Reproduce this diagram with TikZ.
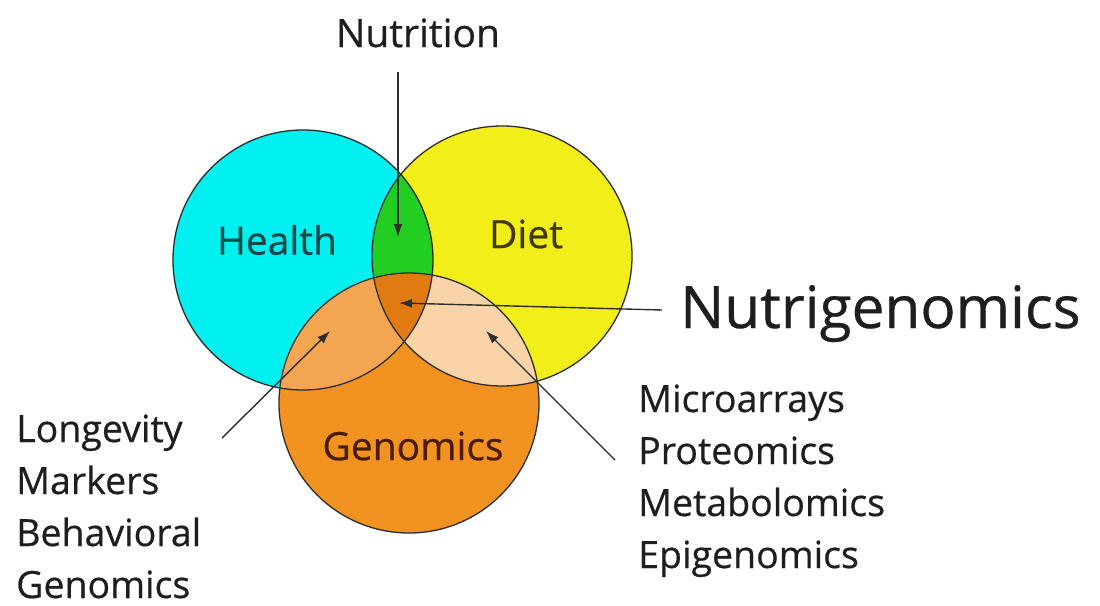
\documentclass[tikz,border=0pt]{standalone}
\usepackage{fontspec}
\setmainfont{Open Sans}[FakeBold=0.5]
\usetikzlibrary{arrows.meta}
\definecolor{cyanc}{RGB}{0,240,240}
\definecolor{yellc}{RGB}{242,238,26}
\definecolor{orac}{RGB}{242,146,32}
\definecolor{greenc}{RGB}{34,206,34}
\definecolor{hgc}{RGB}{245,166,82}
\definecolor{dgc}{RGB}{248,212,168}
\definecolor{allc}{RGB}{226,122,18}
\definecolor{linec}{RGB}{45,45,45}
\definecolor{txtc}{RGB}{30,30,30}
\definecolor{htxt}{RGB}{16,72,72}
\definecolor{dtxt}{RGB}{64,58,0}
\definecolor{gtxt}{RGB}{74,28,0}
\begin{document}
\begin{tikzpicture}[x=1pt,y=-1pt,
  outline/.style={draw=linec,line width=1.3pt},
  pointer/.style={draw=linec,line width=1.4pt,-{Latex[length=13pt,width=9pt]}},
  lbl/.style={inner sep=0pt,text=txtc,font=\fontsize{37.5}{40}\selectfont},
  setlbl/.style={inner sep=0pt,font=\fontsize{39}{42}\selectfont}]
\useasboundingbox (0,0) rectangle (1100,605);
\fill[white] (0,0) rectangle (1100,605);
\def\Hc{(303,260) circle[radius=130pt]}
\def\Dc{(502,256) circle[radius=130pt]}
\def\Gc{(409,403) circle[radius=130pt]}
% base fills
\fill[cyanc] \Hc;
\fill[yellc] \Dc;
\fill[orac] \Gc;
% pairwise
\begin{scope}\clip \Hc; \fill[greenc] \Dc; \end{scope}
\begin{scope}\clip \Hc; \fill[hgc] \Gc; \end{scope}
\begin{scope}\clip \Dc; \fill[dgc] \Gc; \end{scope}
\begin{scope}\clip \Hc; \clip \Dc; \fill[allc] \Gc; \end{scope}
% outlines
\draw[outline] \Hc;
\draw[outline] \Dc;
\draw[outline] \Gc;
% set labels
\node[setlbl,text=htxt] (health) at (277,240) {Health};
\node[setlbl,text=dtxt] (diet) at (526,234) {Diet};
\node[setlbl,text=gtxt] (genomics) at (413,446) {Genomics};
% outer labels
\node[lbl,anchor=base,font=\fontsize{39}{42}\selectfont] (nutrition) at (418,47) {Nutrition};
\node[lbl,anchor=base west,font=\fontsize{58.5}{64}\selectfont] (nutrigen) at (680,328) {Nutrigenomics};
\node[lbl,anchor=base west] (micro) at (638,412) {Microarrays};
\node[lbl,anchor=base west] (prot) at (638,464) {Proteomics};
\node[lbl,anchor=base west] (metab) at (638,516) {Metabolomics};
\node[lbl,anchor=base west] (epig) at (638,568) {Epigenomics};
\node[lbl,anchor=base west] (longev) at (16,442) {Longevity};
\node[lbl,anchor=base west] (mark) at (16,494) {Markers};
\node[lbl,anchor=base west] (behav) at (16,546) {Behavioral};
\node[lbl,anchor=base west] (genl) at (16,598) {Genomics};
% connector ends
\coordinate (nutS) at (398,72);
\coordinate (nutT) at (398,237);
\coordinate (ngS) at (662,310);
\coordinate (ngT) at (399,303);
\coordinate (lgS) at (222,438);
\coordinate (lgT) at (330,331);
\coordinate (miS) at (615,460);
\coordinate (miT) at (486,331);
\draw[pointer] (nutS) -- (nutT);
\draw[pointer] (ngS) -- (ngT);
\draw[pointer] (lgS) -- (lgT);
\draw[pointer] (miS) -- (miT);
\end{tikzpicture}
\end{document}
